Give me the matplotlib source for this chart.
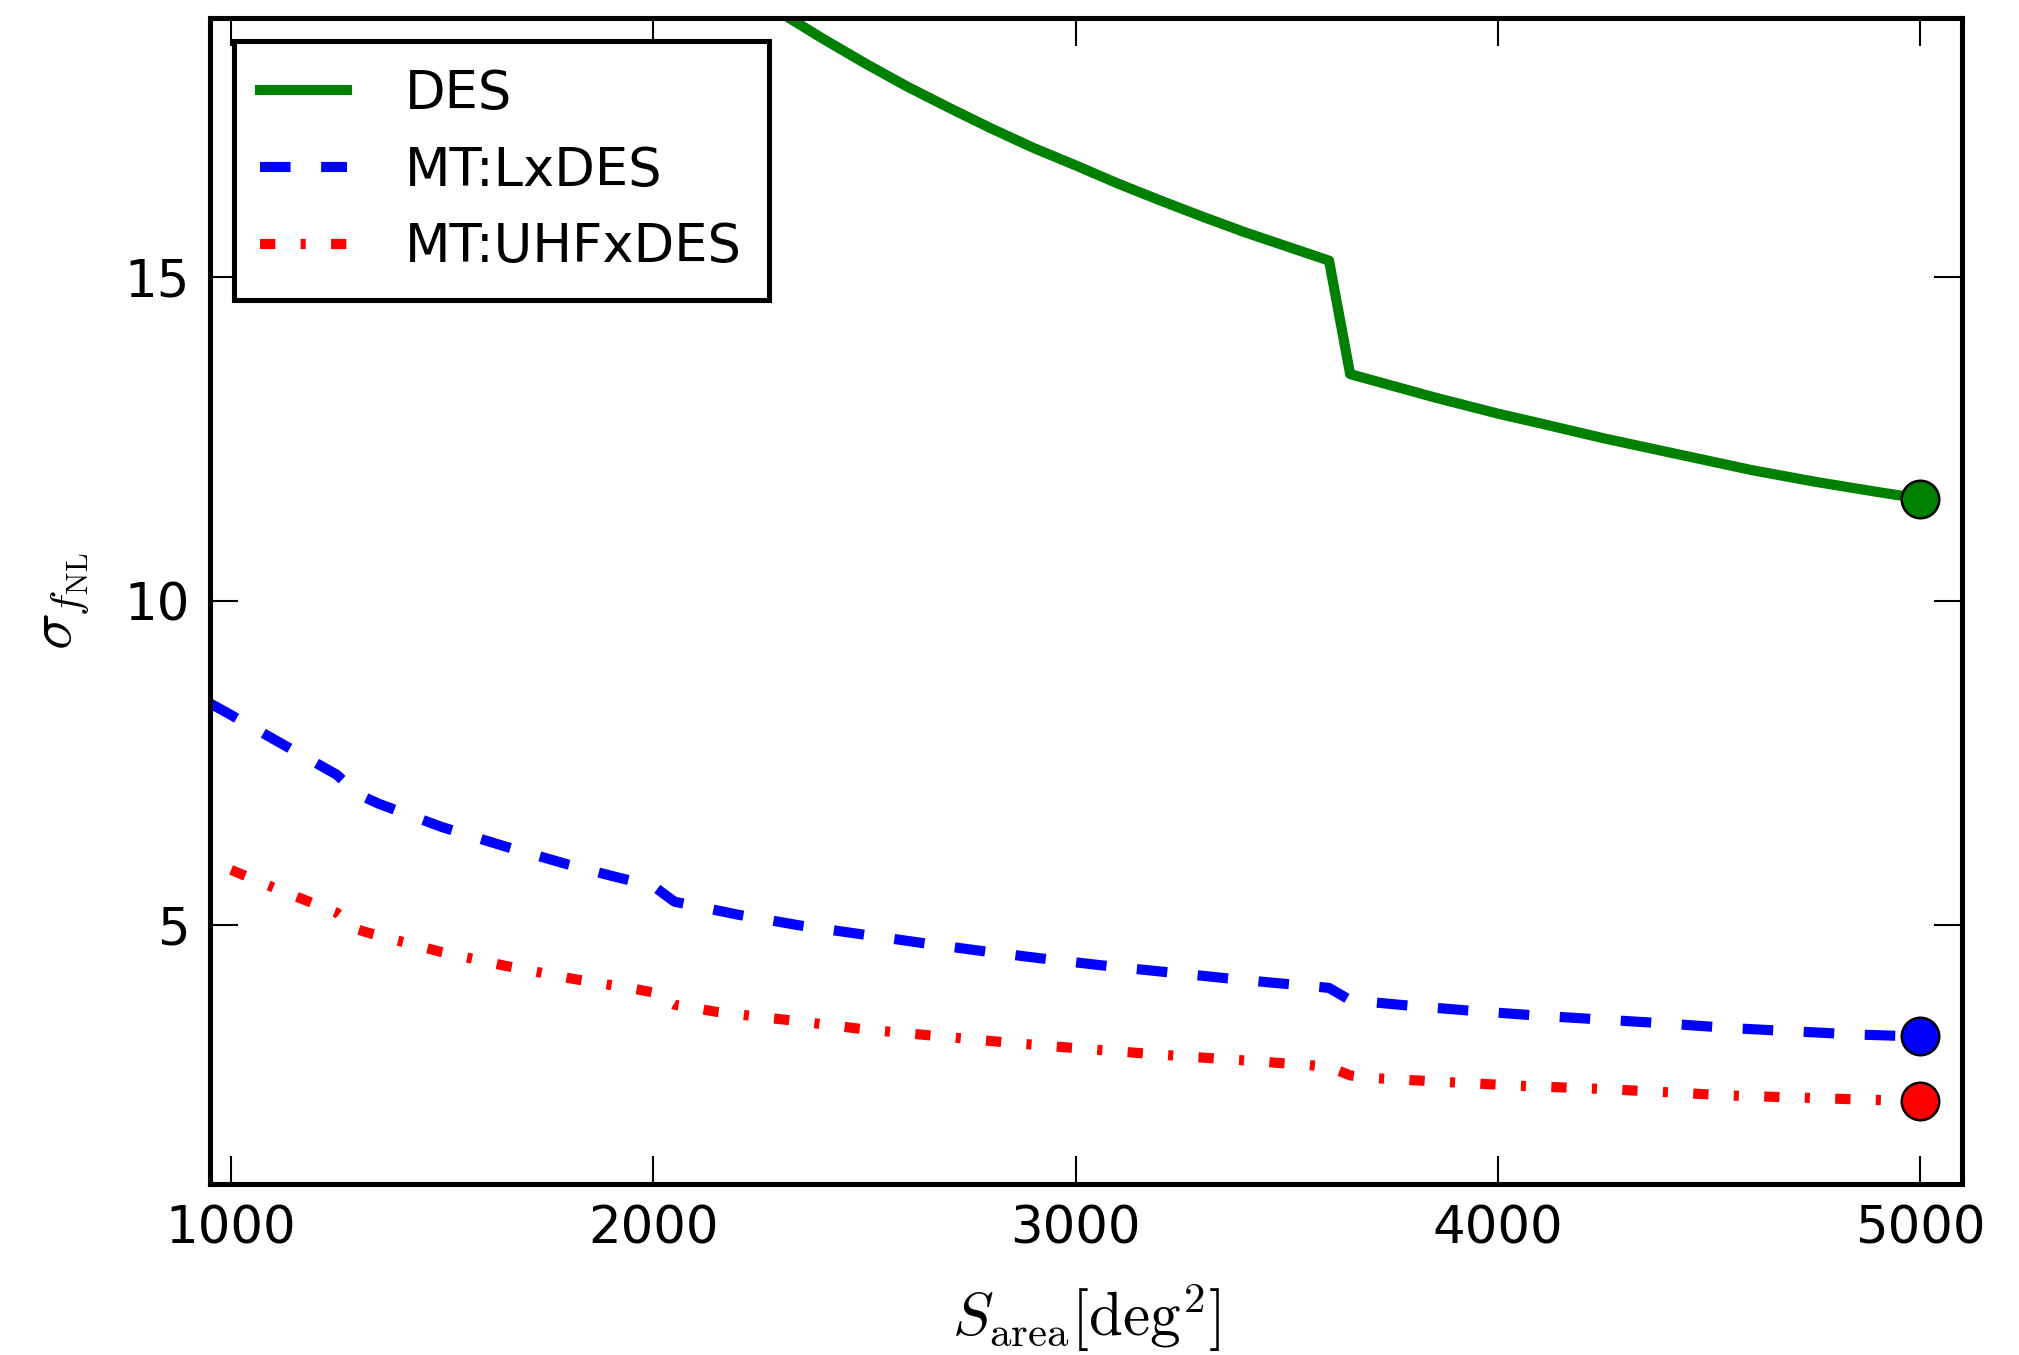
import numpy as np
import matplotlib
matplotlib.use('Agg')
import matplotlib.pyplot as plt

plt.rcParams['mathtext.fontset'] = 'cm'
plt.rcParams['font.family'] = 'DejaVu Sans'
plt.rcParams['lines.scale_dashes'] = False

# survey area (deg^2) and forecast sigma(f_NL)
area_des = [2200, 2300, 2400, 2500, 2600, 2700, 2800, 2900, 3000, 3100, 3200, 3300, 3400, 3500, 3600,
            3650, 3750, 3850, 4000, 4100, 4250, 4400, 4500, 4600, 4750, 4900, 5000]
sig_des = [19.51, 19.08, 18.68, 18.30, 17.94, 17.61, 17.29, 16.99, 16.72, 16.44, 16.18, 15.93, 15.69, 15.47, 15.25,
           13.50, 13.32, 13.14, 12.89, 12.74, 12.51, 12.30, 12.16, 12.02, 11.84, 11.68, 11.58]

area_lx = [950, 1000, 1100, 1250, 1300, 1350, 1500, 1650, 1800, 1900, 2000, 2050, 2200, 2350, 2500, 2650,
           2800, 2950, 3100, 3250, 3400, 3550, 3600, 3650, 3800, 3950, 4100, 4250, 4400, 4550, 4700, 4850, 5000]
sig_lx = [8.42, 8.24, 7.87, 7.32, 7.02, 6.87, 6.51, 6.21, 5.93, 5.76, 5.60, 5.36, 5.16, 4.99, 4.85, 4.71,
          4.58, 4.46, 4.35, 4.25, 4.15, 4.06, 4.03, 3.84, 3.75, 3.67, 3.60, 3.54, 3.48, 3.41, 3.36, 3.31, 3.28]

area_uhf = [1000, 1100, 1250, 1300, 1330, 1500, 1650, 1800, 1950, 2000, 2050, 2150, 2350, 2500, 2700,
            2850, 3000, 3200, 3400, 3550, 3600, 3650, 3700, 3900, 4050, 4250, 4400, 4550, 4750, 4900, 5000]
sig_uhf = [5.85, 5.58, 5.19, 4.93, 4.87, 4.58, 4.37, 4.18, 4.02, 3.96, 3.77, 3.66, 3.51, 3.39, 3.27,
           3.18, 3.10, 3.00, 2.91, 2.84, 2.81, 2.68, 2.64, 2.57, 2.52, 2.47, 2.42, 2.37, 2.33, 2.30, 2.28]

# end points marked with circles
mark_area = 5000
mark_sig = [11.58, 3.28, 2.28]
colors = ['green', 'blue', 'red']

fig = plt.figure(figsize=(20.19, 13.55), dpi=100)
ax = fig.add_axes([0.104, 0.126, 0.868, 0.861])

lw = 7.3
ax.plot(area_des, sig_des, color='green', lw=lw, label='DES')
ax.plot(area_lx, sig_lx, color='blue', lw=lw, dashes=(22, 22), label='MT:LxDES')
ax.plot(area_uhf, sig_uhf, color='red', lw=lw, dashes=(11, 18.25, 3.65, 18.25), label='MT:UHFxDES')

for y, col in zip(mark_sig, colors):
    ax.plot(mark_area, y, 'o', color=col, ms=27, mec='black', mew=1.8, zorder=5)

ax.set_xlim(950, 5100)
ax.set_ylim(1, 19)
ax.set_xticks([1000, 2000, 3000, 4000, 5000])
ax.set_yticks([5, 10, 15])

ax.tick_params(direction='in', length=20, width=1.5, pad=14.6, labelsize=37,
               top=True, right=True)
for s in ax.spines.values():
    s.set_linewidth(3.65)

ax.set_xlabel(r'$S_{\rm area}[{\rm deg}^2]$', fontsize=44, labelpad=19)
ax.set_ylabel(r'$\sigma_{f_{\rm NL}}$', fontsize=44, labelpad=24)

leg = ax.legend(loc='upper left', fontsize=38, handlelength=1.65, handletextpad=1.1,
                labelspacing=0.47, borderpad=0.5, borderaxespad=0.45, fancybox=False,
                framealpha=1)
leg.get_frame().set_edgecolor('black')
leg.get_frame().set_linewidth(3.65)

fig.savefig('out.png', dpi=100)
